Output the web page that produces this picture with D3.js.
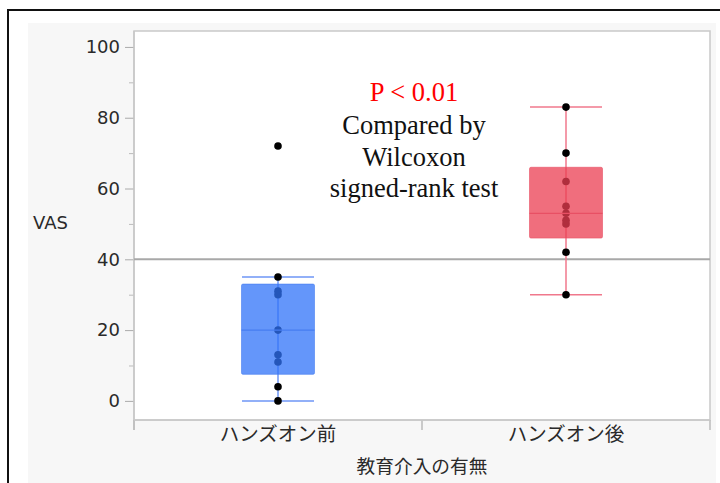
<!DOCTYPE html>
<html><head><meta charset="utf-8">
<script src="https://cdn.jsdelivr.net/npm/d3@7"></script>
<style>body{margin:0;background:#fff;}svg{display:block;}</style>
</head><body>
<svg id="c" width="720" height="483"></svg>
<script>
const categories = ["ハンズオン前", "ハンズオン後"];
const beforeValues = [0, 4, 11, 13, 20, 30, 31, 35, 72];
const afterValues = [30, 42, 50, 51, 53, 55, 62, 70, 83];
const yTicks = [0, 20, 40, 60, 80, 100];
const yMinorTicks = [10, 30, 50, 70, 90];
const referenceValue = [40];
const yLabel = "VAS";
const xLabel = "教育介入の有無";
const noteLines = ["P < 0.01", "Compared by", "Wilcoxon", "signed-rank test"];

const series = [
  {name: categories[0], values: beforeValues, fill: "rgb(48,115,248)", line: "rgb(110,150,246)", edge: "rgb(70,125,240)"},
  {name: categories[1], values: afterValues, fill: "rgb(235,62,82)", line: "rgb(240,120,140)", edge: "rgb(232,80,100)"}
];

const svg = d3.select("#c");
svg.append("rect").attr("x", 28).attr("y", 23).attr("width", 688).attr("height", 470).attr("fill", "#f7f7f7");
svg.append("line").attr("x1", 7).attr("x2", 720).attr("y1", 10).attr("y2", 10).attr("stroke", "#111").attr("stroke-width", 2);
svg.append("line").attr("x1", 8).attr("x2", 8).attr("y1", 9).attr("y2", 483).attr("stroke", "#111").attr("stroke-width", 2);

const L = 134, R = 710, T = 31, B = 420;
const y = d3.scaleLinear().domain([-5.4, 104.5]).range([B, T]);
const x = d3.scaleBand().domain(categories).range([L, R]).padding(0);

svg.append("rect").attr("x", L).attr("y", T).attr("width", R - L).attr("height", B - T)
  .attr("fill", "#fff").attr("stroke", "#c9c9c9").attr("stroke-width", 1.5);

const yAx = svg.append("g").attr("transform", `translate(${L},0)`)
  .call(d3.axisLeft(y).tickValues(yTicks).tickSize(9).tickPadding(5));
yAx.select(".domain").remove();
yAx.selectAll("line").attr("stroke", "#aaa");
yAx.selectAll("text").attr("font-family", "DejaVu Sans").attr("font-size", 18).attr("fill", "#2a2a2a");
const yMin = svg.append("g").attr("transform", `translate(${L},0)`)
  .call(d3.axisLeft(y).tickValues(yMinorTicks).tickSize(5).tickFormat(""));
yMin.select(".domain").remove();
yMin.selectAll("line").attr("stroke", "#bbb");
svg.append("line").attr("x1", L).attr("x2", L).attr("y1", T).attr("y2", 430).attr("stroke", "#c9c9c9").attr("stroke-width", 1.5);

const xAx = svg.append("g").attr("transform", `translate(0,${B})`)
  .call(d3.axisBottom(x).tickSize(0).tickPadding(7));
xAx.select(".domain").remove();
xAx.selectAll("text").attr("font-family", "Noto Sans CJK JP").attr("font-size", 19.5).attr("fill", "#2a2a2a");
const bounds = [L, x(categories[1]), R];
svg.selectAll(".xt").data(bounds).join("line")
  .attr("x1", d => d).attr("x2", d => d).attr("y1", B).attr("y2", 430)
  .attr("stroke", "#bbb").attr("stroke-width", 1.5);
svg.append("line").attr("x1", L).attr("x2", R).attr("y1", B).attr("y2", B).attr("stroke", "#c9c9c9").attr("stroke-width", 1.5);

svg.append("text").attr("x", (L + R) / 2).attr("y", 473).attr("text-anchor", "middle")
  .attr("font-family", "Noto Sans CJK JP").attr("font-size", 18.7).attr("fill", "#2a2a2a").text(xLabel);
svg.append("text").attr("x", 33).attr("y", 229)
  .attr("font-family", "DejaVu Sans").attr("font-size", 18).attr("fill", "#2a2a2a").text(yLabel);

svg.selectAll(".ref").data(referenceValue).join("line")
  .attr("x1", L).attr("x2", R).attr("y1", d => y(d)).attr("y2", d => y(d))
  .attr("stroke", "#a8a8a8").attr("stroke-width", 2);

function stats(vals) {
  const s = vals.slice().sort((a, b) => a - b), n = s.length;
  const q = p => { const h = (n + 1) * p; const lo = Math.floor(h), f = h - lo;
    const a = s[Math.max(0, lo - 1)], b = s[Math.min(n - 1, lo)]; return a + f * (b - a); };
  const q1 = q(0.25), med = q(0.5), q3 = q(0.75), iqr = q3 - q1;
  const lw = d3.min(s.filter(v => v >= q1 - 1.5 * iqr));
  const hw = d3.max(s.filter(v => v <= q3 + 1.5 * iqr));
  return {q1, med, q3, lw, hw};
}

const boxW = 73;
series.forEach(sr => {
  const cx = x(sr.name) + x.bandwidth() / 2;
  const st = stats(sr.values);
  const g = svg.append("g");
  g.append("line").attr("x1", cx).attr("x2", cx).attr("y1", y(st.hw)).attr("y2", y(st.lw))
    .attr("stroke", sr.line).attr("stroke-width", 1.5);
  [st.hw, st.lw].forEach(v => g.append("line").attr("x1", cx - 36).attr("x2", cx + 36)
    .attr("y1", y(v)).attr("y2", y(v)).attr("stroke", sr.line).attr("stroke-width", 1.5));
  g.selectAll("circle").data(sr.values).join("circle")
    .attr("cx", cx).attr("cy", d => y(d)).attr("r", 3.8).attr("fill", "#000");
  g.append("rect").attr("x", cx - boxW / 2).attr("width", boxW)
    .attr("y", y(st.q3)).attr("height", y(st.q1) - y(st.q3))
    .attr("fill", sr.fill).attr("fill-opacity", 0.75).attr("stroke", sr.edge).attr("stroke-opacity", 0.6).attr("stroke-width", 1).attr("rx", 1.5);
  g.append("line").attr("x1", cx - boxW / 2).attr("x2", cx + boxW / 2).attr("y1", y(st.med)).attr("y2", y(st.med))
    .attr("stroke", sr.edge).attr("stroke-width", 1.2);
});

const noteY = [101, 134, 166, 197];
svg.selectAll(".note").data(noteLines).join("text")
  .attr("x", 414).attr("y", (d, i) => noteY[i]).attr("text-anchor", "middle")
  .attr("font-family", "Liberation Serif").attr("font-size", 26.5)
  .attr("fill", (d, i) => i === 0 ? "#ff0000" : "#111").text(d => d);
</script>
</body></html>
